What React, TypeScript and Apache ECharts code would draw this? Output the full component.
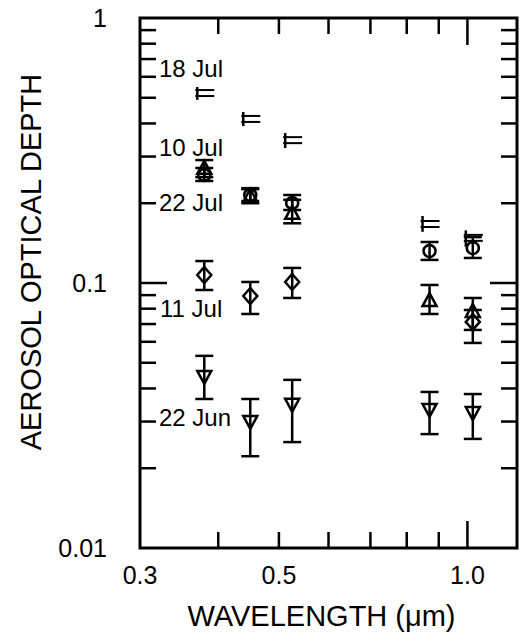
import React, { useEffect, useRef } from "react";
import * as echarts from "echarts";

// ---------- data ----------
const WAVELENGTHS = [0.38, 0.45, 0.525, 0.87, 1.02];

const JUL18 = [0.521, 0.416, 0.346, 0.167, 0.148];
const JUL18_LO = [0.491, 0.391, 0.323, 0.156, 0.137];
const JUL18_HI = [0.549, 0.442, 0.368, 0.179, 0.158];

const JUL10 = [0.272, 0.213, 0.184, 0.0862, 0.0784];
const JUL10_LO = [0.251, 0.2, 0.168, 0.0764, 0.0665];
const JUL10_HI = [0.291, 0.226, 0.206, 0.0983, 0.0878];

const JUL22 = [0.2556, 0.2148, 0.2004, 0.132, 0.1355];
const JUL22_LO = [0.2426, 0.2038, 0.1886, 0.1222, 0.1243];
const JUL22_HI = [0.2716, 0.228, 0.2148, 0.1428, 0.149];

const JUL11 = [0.1072, 0.0893, 0.1009, null, 0.0713];
const JUL11_LO = [0.0941, 0.0764, 0.0878, null, 0.0594];
const JUL11_HI = [0.121, 0.1009, 0.114, null, 0.0791];

const JUN22 = [0.0442, 0.0299, 0.0347, 0.0332, 0.0323];
const JUN22_LO = [0.0365, 0.0222, 0.0251, 0.0269, 0.0258];
const JUN22_HI = [0.0531, 0.0365, 0.0431, 0.0388, 0.0381];

const SERIES_LABELS = ["18 Jul", "10 Jul", "22 Jul", "11 Jul", "22 Jun"];

const X_TICK_LABELS = [0.3, 0.5, 1.0];
const X_MINOR_TICKS = [0.4, 0.5, 0.6, 0.7, 0.8, 0.9];
const X_MAJOR_TICKS = [1.0];
const Y_MINOR_TICKS = [
  0.02, 0.03, 0.04, 0.05, 0.06, 0.07, 0.08, 0.09,
  0.2, 0.3, 0.4, 0.5, 0.6, 0.7, 0.8, 0.9,
];
const Y_MAJOR_TICKS = [0.1];

// ---------- layout ----------
const FONT = "'Liberation Sans', Arial, Helvetica, sans-serif";
const GRID = { left: 140, top: 18, width: 377, height: 530 };
const LABEL_POS = [
  { x: 159, y: 68 },
  { x: 159, y: 147 },
  { x: 159, y: 202 },
  { x: 160, y: 308 },
  { x: 159, y: 417 },
];
const LW = 2.5;

function build(vals: (number | null)[], lo: (number | null)[], hi: (number | null)[]) {
  const out: number[][] = [];
  WAVELENGTHS.forEach((w, i) => {
    if (vals[i] != null) out.push([w, vals[i] as number, lo[i] as number, hi[i] as number]);
  });
  return out;
}

function markerShape(kind: string, cx: number, cy: number) {
  const style = { fill: "none", stroke: "#000", lineWidth: LW };
  if (kind === "circle") return { type: "circle", shape: { cx, cy, r: 6 }, style };
  if (kind === "up")
    return { type: "polygon", shape: { points: [[cx, cy - 7], [cx + 7, cy + 6], [cx - 7, cy + 6]] }, style };
  if (kind === "down")
    return { type: "polygon", shape: { points: [[cx - 7, cy - 6], [cx + 7, cy - 6], [cx, cy + 7]] }, style };
  if (kind === "diamond")
    return { type: "polygon", shape: { points: [[cx, cy - 8], [cx + 7, cy], [cx, cy + 8], [cx - 7, cy]] }, style };
  return null;
}

function makeRender(kind: string) {
  return (params: any, api: any) => {
    const x = api.value(0);
    const p = api.coord([x, api.value(1)]);
    const pl = api.coord([x, api.value(2)]);
    const ph = api.coord([x, api.value(3)]);
    const ls = { stroke: "#000", lineWidth: LW };
    const thin = { stroke: "#000", lineWidth: 2 };
    const children: any[] = [];
    if (kind === "bracket") {
      const vx = p[0] - 7;
      children.push({ type: "line", shape: { x1: vx, y1: ph[1], x2: vx, y2: pl[1] }, style: ls });
      children.push({ type: "line", shape: { x1: p[0] - 9, y1: p[1] - 3, x2: p[0] + 10, y2: p[1] - 3 }, style: thin });
      children.push({ type: "line", shape: { x1: p[0] - 9, y1: p[1] + 3, x2: p[0] + 10, y2: p[1] + 3 }, style: thin });
    } else {
      children.push({ type: "line", shape: { x1: p[0], y1: ph[1], x2: p[0], y2: pl[1] }, style: ls });
      children.push({ type: "line", shape: { x1: p[0] - 9, y1: ph[1], x2: p[0] + 9, y2: ph[1] }, style: ls });
      children.push({ type: "line", shape: { x1: p[0] - 9, y1: pl[1], x2: p[0] + 9, y2: pl[1] }, style: ls });
      const m = markerShape(kind, p[0], p[1]);
      if (m) children.push(m);
    }
    return { type: "group", children };
  };
}

export default function App() {
  const ref = useRef<HTMLDivElement>(null);

  useEffect(() => {
    if (!ref.current) return;
    const chart = echarts.init(ref.current, null, { renderer: "svg" });

    const xTickData = [
      ...X_MINOR_TICKS.map((v) => [v, 0.01, 0]),
      ...X_MAJOR_TICKS.map((v) => [v, 0.01, 1]),
    ];
    const yTickData = [
      ...Y_MINOR_TICKS.map((v) => [0.3, v, 0]),
      ...Y_MAJOR_TICKS.map((v) => [0.3, v, 1]),
    ];

    const seriesDefs = [
      { name: SERIES_LABELS[0], kind: "bracket", data: build(JUL18, JUL18_LO, JUL18_HI) },
      { name: SERIES_LABELS[1], kind: "up", data: build(JUL10, JUL10_LO, JUL10_HI) },
      { name: SERIES_LABELS[2], kind: "circle", data: build(JUL22, JUL22_LO, JUL22_HI) },
      { name: SERIES_LABELS[3], kind: "diamond", data: build(JUL11, JUL11_LO, JUL11_HI) },
      { name: SERIES_LABELS[4], kind: "down", data: build(JUN22, JUN22_LO, JUN22_HI) },
    ];

    chart.setOption({
      animation: false,
      backgroundColor: "#fff",
      grid: {
        ...GRID,
        show: true,
        borderColor: "#000",
        borderWidth: 3,
        backgroundColor: "transparent",
        containLabel: false,
        outerBoundsMode: "none",
      },
      xAxis: {
        type: "log",
        logBase: 10,
        min: 0.3,
        max: 1.2,
        axisLine: { show: false },
        axisTick: { show: false },
        splitLine: { show: false },
        minorTick: { show: false },
        axisLabel: {
          customValues: X_TICK_LABELS,
          formatter: (v: number) => v.toFixed(1),
          fontSize: 25,
          fontFamily: FONT,
          color: "#000",
          margin: 14,
        },
        name: "WAVELENGTH (\u03bcm)",
        nameLocation: "middle",
        nameGap: 53,
        nameTextStyle: { fontSize: 29, fontFamily: FONT, color: "#000", padding: [0, 14, 0, 0] },
      },
      yAxis: {
        type: "log",
        logBase: 10,
        min: 0.01,
        max: 1,
        axisLine: { show: false },
        axisTick: { show: false },
        splitLine: { show: false },
        minorTick: { show: false },
        axisLabel: {
          formatter: (v: number) => String(Number(v.toPrecision(2))),
          fontSize: 25,
          fontFamily: FONT,
          color: "#000",
          margin: 33,
        },
        name: "AEROSOL OPTICAL DEPTH",
        nameLocation: "middle",
        nameRotate: 90,
        nameGap: 95,
        nameTextStyle: { fontSize: 29, fontFamily: FONT, color: "#000", padding: [0, 0, 0, 42] },
      },
      graphic: SERIES_LABELS.map((t, i) => ({
        type: "text",
        x: LABEL_POS[i].x,
        y: LABEL_POS[i].y,
        style: {
          text: t,
          font: `24px ${FONT}`,
          fill: "#000",
          textAlign: "left",
          textVerticalAlign: "middle",
        },
        z: 10,
      })),
      series: [
        {
          type: "custom",
          name: "xticks",
          silent: true,
          data: xTickData,
          encode: { x: 0, y: 1 },
          renderItem: (params: any, api: any) => {
            const v = api.value(0);
            const len = api.value(2) ? 27 : 16;
            const b = api.coord([v, 0.01]);
            const t = api.coord([v, 1]);
            const ls = { stroke: "#000", lineWidth: LW };
            return {
              type: "group",
              children: [
                { type: "line", shape: { x1: b[0], y1: b[1], x2: b[0], y2: b[1] - len }, style: ls },
                { type: "line", shape: { x1: t[0], y1: t[1], x2: t[0], y2: t[1] + len }, style: ls },
              ],
            };
          },
        },
        {
          type: "custom",
          name: "yticks",
          silent: true,
          data: yTickData,
          encode: { x: 0, y: 1 },
          renderItem: (params: any, api: any) => {
            const v = api.value(1);
            const len = api.value(2) ? 27 : 16;
            const l = api.coord([0.3, v]);
            const r = api.coord([1.2, v]);
            const ls = { stroke: "#000", lineWidth: LW };
            return {
              type: "group",
              children: [
                { type: "line", shape: { x1: l[0], y1: l[1], x2: l[0] + len, y2: l[1] }, style: ls },
                { type: "line", shape: { x1: r[0], y1: r[1], x2: r[0] - len, y2: r[1] }, style: ls },
              ],
            };
          },
        },
        ...seriesDefs.map((s) => ({
          type: "custom",
          name: s.name,
          data: s.data,
          encode: { x: 0, y: 1 },
          renderItem: makeRender(s.kind),
        })),
      ],
    });

    return () => chart.dispose();
  }, []);

  return (
    <div
      ref={ref}
      style={{ position: "fixed", left: 0, top: 0, width: 521, height: 634, background: "#fff" }}
    />
  );
}
